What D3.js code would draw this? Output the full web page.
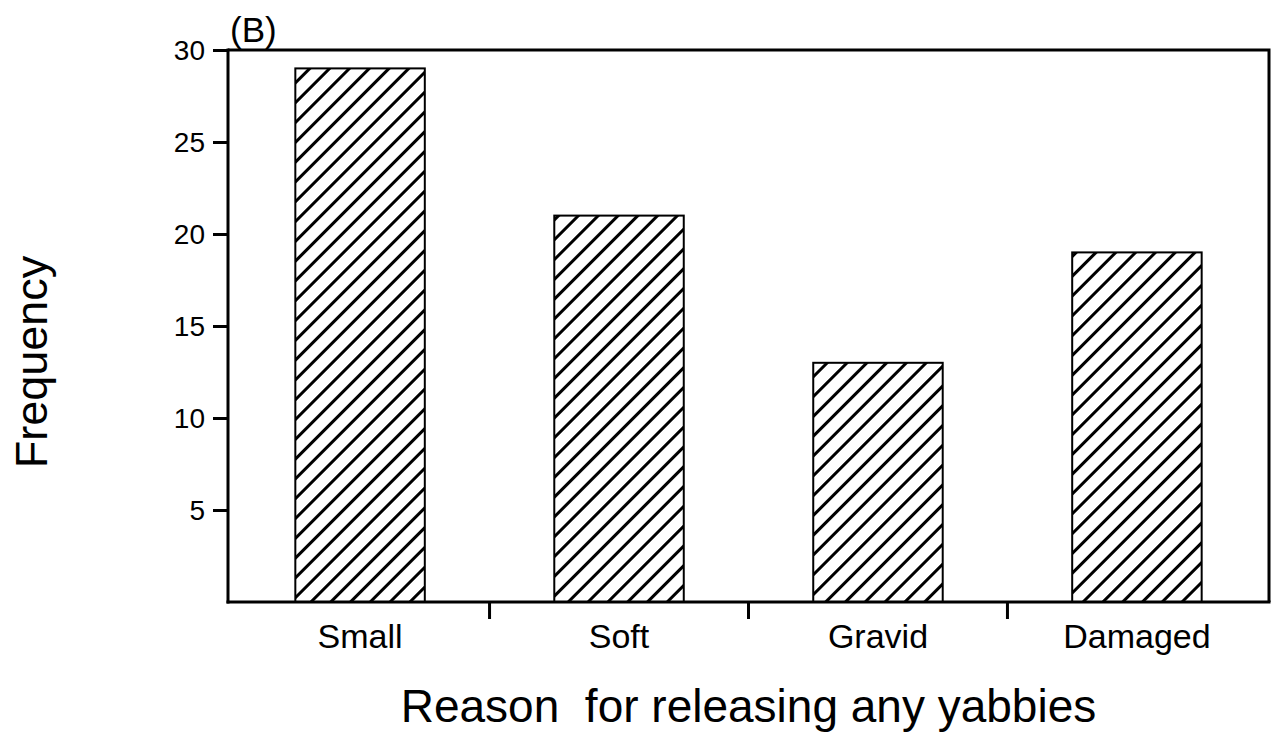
<!DOCTYPE html>
<html>
<head>
<meta charset="utf-8">
<script src="https://cdn.jsdelivr.net/npm/d3@7"></script>
<style>
  body { margin: 0; background: #fff; }
  text { font-family: "Liberation Sans", Arial, Helvetica, sans-serif; fill: #000; }
</style>
</head>
<body>
<div id="chart"></div>
<script>
// data
const reasons = ["Small", "Soft", "Gravid", "Damaged"];
const frequency = [29, 21, 13, 19];
const yTicks = [5, 10, 15, 20, 25, 30];

// size
const width = 1273;
const height = 733;
const margin = {top: 50, right: 4, bottom: 131, left: 228};

const svg = d3.select("#chart").append("svg")
  .attr("width", width)
  .attr("height", height);

// hatch pattern (diagonal "/" lines)
const hatchGap = 14;
svg.append("defs").append("pattern")
  .attr("id", "hatch")
  .attr("patternUnits", "userSpaceOnUse")
  .attr("width", hatchGap)
  .attr("height", 10)
  .attr("patternTransform", "rotate(45)")
  .call(p => p.append("rect").attr("width", hatchGap).attr("height", 10).attr("fill", "#fff"))
  .call(p => p.append("rect").attr("x", 0).attr("width", 3).attr("height", 10).attr("fill", "#000"));

// scales
const x = d3.scaleBand()
  .domain(reasons)
  .range([margin.left, width - margin.right])
  .paddingInner(0.5)
  .paddingOuter(0.26);

const y = d3.scaleLinear()
  .domain([0, 30])
  .range([height - margin.bottom, margin.top]);

// bars
svg.append("g")
  .selectAll("rect")
  .data(reasons)
  .join("rect")
    .attr("x", d => x(d))
    .attr("y", (d, i) => y(frequency[i]))
    .attr("width", x.bandwidth())
    .attr("height", (d, i) => y(0) - y(frequency[i]))
    .attr("fill", "url(#hatch)")
    .attr("stroke", "#000")
    .attr("stroke-width", 2);

// frame (top + right)
const x0 = margin.left, x1 = width - margin.right, yTop = y(30), yBot = y(0);
svg.append("path")
  .attr("d", `M${x0},${yTop}H${x1}V${yBot}`)
  .attr("fill", "none")
  .attr("stroke", "#000")
  .attr("stroke-width", 3);

// y axis
svg.append("g")
  .attr("transform", `translate(${x0},0)`)
  .call(d3.axisLeft(y).tickValues(yTicks).tickSize(15).tickPadding(8).tickSizeOuter(0))
  .call(g => g.select(".domain").remove())
  .call(g => g.selectAll(".tick line").attr("stroke", "#000").attr("stroke-width", 3))
  .call(g => g.selectAll(".tick text").attr("font-size", 28).attr("dy", "0.34em"))
  .call(g => g.attr("font-family", null));
svg.append("line")
  .attr("x1", x0).attr("x2", x0)
  .attr("y1", yTop - 1.5).attr("y2", yBot + 1.5)
  .attr("stroke", "#000").attr("stroke-width", 3);

// x axis
svg.append("g")
  .attr("transform", `translate(0,${yBot})`)
  .call(d3.axisBottom(x).tickSize(0).tickPadding(22).tickSizeOuter(0))
  .call(g => g.select(".domain").remove())
  .call(g => g.selectAll(".tick text").attr("font-size", 34).attr("dy", "0.71em"))
  .call(g => g.attr("font-family", null));
svg.append("line")
  .attr("x1", x0 - 1.5).attr("x2", x1 + 1.5)
  .attr("y1", yBot).attr("y2", yBot)
  .attr("stroke", "#000").attr("stroke-width", 3);

// category boundary ticks
const step = x.step();
svg.append("g")
  .selectAll("line")
  .data(reasons.slice(1))
  .join("line")
    .attr("x1", d => x(d) - step * x.paddingInner() / 2)
    .attr("x2", d => x(d) - step * x.paddingInner() / 2)
    .attr("y1", yBot)
    .attr("y2", yBot + 17)
    .attr("stroke", "#000")
    .attr("stroke-width", 3);

// labels
svg.append("text")
  .attr("x", 230)
  .attr("y", 42)
  .attr("font-size", 35)
  .text("(B)");

svg.append("text")
  .attr("x", (x0 + x1) / 2)
  .attr("y", 722)
  .attr("text-anchor", "middle")
  .attr("font-size", 46)
  .style("white-space", "pre")
  .text("Reason  for releasing any yabbies");

svg.append("text")
  .attr("transform", `translate(47,362)rotate(-90)`)
  .attr("text-anchor", "middle")
  .attr("font-size", 45)
  .text("Frequency");
</script>
</body>
</html>
